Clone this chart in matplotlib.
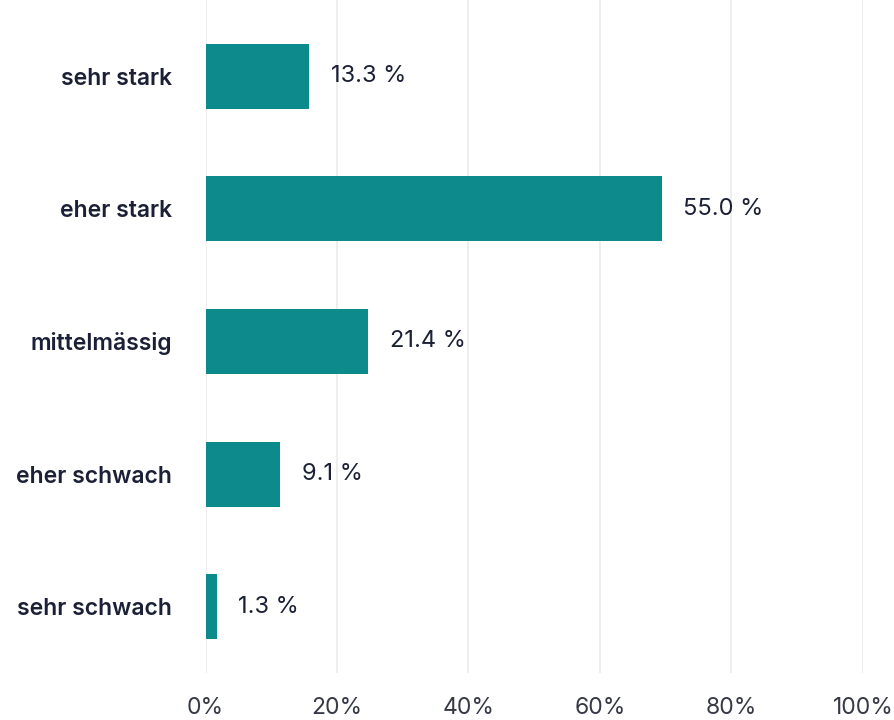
import matplotlib
matplotlib.use('Agg')
import matplotlib.pyplot as plt
import numpy as np

# categories, top to bottom
categories = ['sehr stark', 'eher stark', 'mittelmässig', 'eher schwach', 'sehr schwach']
# printed value labels
labels = [13.3, 55.0, 21.4, 9.1, 1.3]
# bar lengths as drawn in the picture (on the 0-100 % axis)
bar_lengths = [15.8, 69.4, 24.7, 11.4, 1.7]
x_ticks = [0, 20, 40, 60, 80, 100]

plt.rcParams['font.family'] = ['Inter', 'DejaVu Sans']

teal = '#0d8b8c'
navy = '#1b2036'

fig = plt.figure(figsize=(8.94, 7.2), dpi=100)
ax = fig.add_axes([0.2299, 0.0653, 0.7353, 0.9347])

y = np.arange(len(categories))
ax.barh(y, bar_lengths, height=0.49, color=teal, zorder=3)

for yi, length, val in zip(y, bar_lengths, labels):
    ax.text(length + 3.3, yi, f'{val:.1f} %', va='center', ha='left',
            fontsize=17, color=navy, zorder=4)

ax.set_xlim(0, 100)
ax.set_ylim(4.5, -0.575)
ax.set_xticks(x_ticks)
ax.set_xticklabels([f'{t}%' for t in x_ticks], fontsize=16.5, color='#363946')
ax.set_yticks(y)
ax.set_yticklabels(categories, fontsize=16.5, fontweight='semibold', color=navy)

ax.tick_params(axis='x', length=0, pad=17)
ax.tick_params(axis='y', length=0, pad=24)

ax.grid(axis='x', color='#ebebeb', linewidth=1.2, zorder=0)
for s in ax.spines.values():
    s.set_visible(False)

fig.savefig('out.png', dpi=100, facecolor='white')
plt.close(fig)
